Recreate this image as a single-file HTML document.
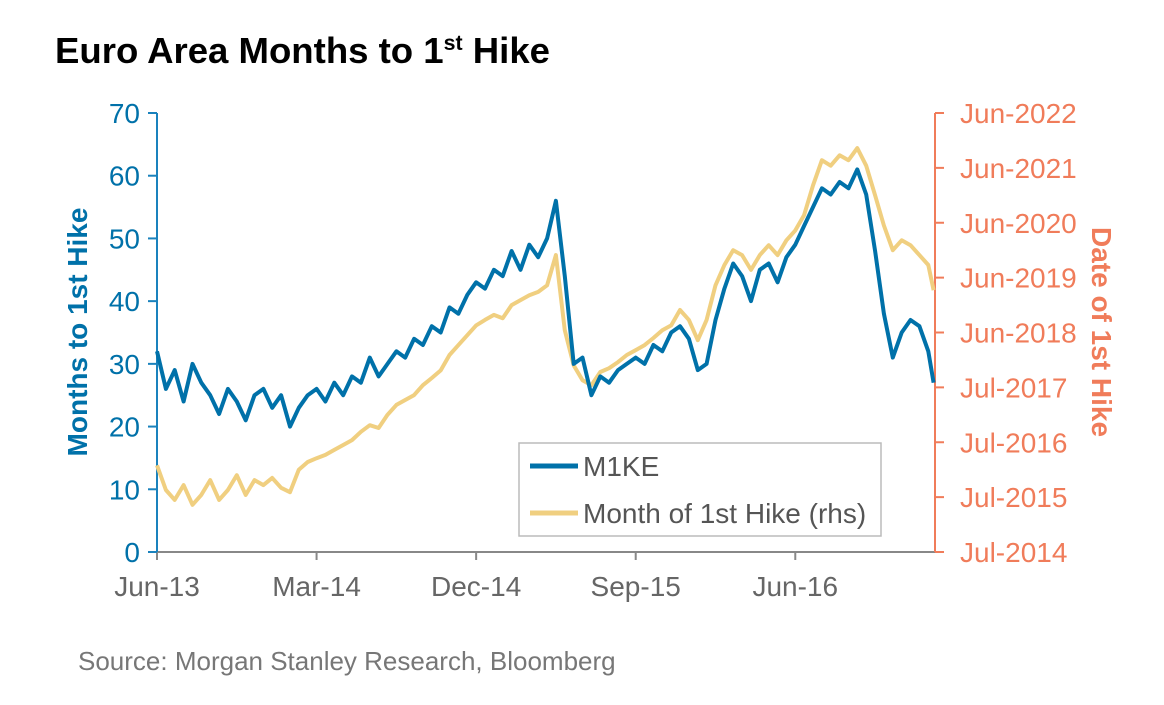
<!DOCTYPE html>
<html><head><meta charset="utf-8"><style>
html,body{margin:0;padding:0;background:#fff;width:1164px;height:705px;overflow:hidden}
svg text{font-family:"Liberation Sans",Arial,sans-serif}
</style></head><body>
<svg id="chart" width="1164" height="705" xmlns="http://www.w3.org/2000/svg">
<text x="55" y="63" font-size="36" font-weight="bold" fill="#000" textLength="495" lengthAdjust="spacingAndGlyphs">Euro Area Months to 1<tspan font-size="21" dy="-13">st</tspan><tspan dy="13"> Hike</tspan></text>
<g id="axes"></g>
<g id="series"></g>
<g>
<rect x="519" y="443" width="362" height="93" fill="#fff" stroke="#bbb" stroke-width="1.5"/>
<line x1="530" y1="466" x2="578" y2="466" stroke="#0071a9" stroke-width="5"/>
<text x="583" y="476" font-size="28" fill="#555">M1KE</text>
<line x1="530" y1="513" x2="578" y2="513" stroke="#f0cf80" stroke-width="5"/>
<text x="583" y="523" font-size="28" fill="#555">Month of 1st Hike (rhs)</text>
</g>
<text transform="translate(87,332) rotate(-90)" text-anchor="middle" font-size="28" font-weight="bold" fill="#0071a9">Months to 1st Hike</text>
<text transform="translate(1092,332) rotate(90)" text-anchor="middle" font-size="28" font-weight="bold" fill="#f07c5a">Date of 1st Hike</text>
<text x="78" y="670" font-size="26" fill="#777">Source: Morgan Stanley Research, Bloomberg</text>
</svg>
<script>
const months = [0,0.5,1,1.5,2,2.5,3,3.5,4,4.5,5,5.5,6,6.5,7,7.5,8,8.5,9,9.5,10,10.5,11,11.5,12,12.5,13,13.5,14,14.5,15,15.5,16,16.5,17,17.5,18,18.5,19,19.5,20,20.5,21,21.5,22,22.5,23,23.5,24,24.5,25,25.5,26,26.5,27,27.5,28,28.5,29,29.5,30,30.5,31,31.5,32,32.5,33,33.5,34,34.5,35,35.5,36,36.5,37,37.5,38,38.5,39,39.5,40,40.5,41,41.5,42,42.5,43,43.5,43.8];
const m1ke = [32,26,29,24,30,27,25,22,26,24,21,25,26,23,25,20,23,25,26,24,27,25,28,27,31,28,30,32,31,34,33,36,35,39,38,41,43,42,45,44,48,45,49,47,50,56,44,30,31,25,28,27,29,30,31,30,33,32,35,36,34,29,30,37,42,46,44,40,45,46,43,47,49,52,55,58,57,59,58,61,57,48,38,31,35,37,36,32,27];
const hikeDate = [2016.08,2015.63,2015.45,2015.72,2015.36,2015.54,2015.81,2015.45,2015.63,2015.90,2015.54,2015.81,2015.72,2015.85,2015.67,2015.59,2016.0,2016.14,2016.21,2016.27,2016.36,2016.45,2016.54,2016.69,2016.81,2016.76,2017.0,2017.18,2017.27,2017.36,2017.54,2017.67,2017.81,2018.09,2018.27,2018.45,2018.63,2018.73,2018.82,2018.76,2019.0,2019.09,2019.18,2019.24,2019.36,2019.91,2018.54,2017.9,2017.63,2017.54,2017.78,2017.85,2017.96,2018.09,2018.18,2018.27,2018.4,2018.54,2018.63,2018.91,2018.73,2018.36,2018.73,2019.36,2019.73,2020.0,2019.91,2019.64,2019.91,2020.09,2019.91,2020.18,2020.36,2020.64,2021.18,2021.64,2021.54,2021.73,2021.64,2021.86,2021.54,2021.0,2020.45,2020.0,2020.18,2020.09,2019.91,2019.73,2019.27];
const leftTicks = [0,10,20,30,40,50,60,70];
const rightTicks = ["Jul-2014","Jul-2015","Jul-2016","Jul-2017","Jun-2018","Jun-2019","Jun-2020","Jun-2021","Jun-2022"];
const xTickLabels = ["Jun-13","Mar-14","Dec-14","Sep-15","Jun-16"];
const xTickMonths = [0,9,18,27,36];

const NS="http://www.w3.org/2000/svg";
const X0=157,X1=935,Y0=552,Y1=113;
const xs=m=>X0+m*17.73;
const yl=v=>Y0-(v/70)*(Y0-Y1);
const yr=d=>Y0-(d-2014.5)/8*(Y0-Y1);
function mk(tag,attrs,parent){const e=document.createElementNS(NS,tag);for(const k in attrs)e.setAttribute(k,attrs[k]);parent.appendChild(e);return e;}
const axes=document.getElementById('axes'),series=document.getElementById('series');

let e=mk('line',{x1:X0,y1:Y0,x2:X1,y2:Y0,stroke:'#888','stroke-width':2},axes);


xTickMonths.forEach((m,i)=>{
  let t=mk('line',{x1:xs(m),y1:Y0,x2:xs(m),y2:Y0+8,stroke:'#888','stroke-width':2},axes);
  
  
  let l=mk('text',{x:xs(m),y:Y0+44,'text-anchor':'middle','font-size':28,fill:'#666'},axes);
  l.textContent=xTickLabels[i];
  
  
});
e=mk('line',{x1:X0,y1:Y0,x2:X0,y2:Y1,stroke:'#1a82bd','stroke-width':2},axes);


leftTicks.forEach(v=>{
  let t=mk('line',{x1:X0-9,y1:yl(v),x2:X0,y2:yl(v),stroke:'#1a82bd','stroke-width':2},axes);
  
  
  let l=mk('text',{x:140,y:yl(v)+10,'text-anchor':'end','font-size':28,fill:'#0071a9'},axes);
  l.textContent=v;
  
  
});
e=mk('line',{x1:X1,y1:Y0,x2:X1,y2:Y1,stroke:'#f07c5a','stroke-width':2},axes);


rightTicks.forEach((s,i)=>{
  const y=yr(2014.5+i);
  let t=mk('line',{x1:X1,y1:y,x2:X1+9,y2:y,stroke:'#f07c5a','stroke-width':2},axes);
  
  
  let l=mk('text',{x:960,y:y+10,'font-size':28,fill:'#f07c5a'},axes);
  l.textContent=s;
  
  
});
let p=mk('polyline',{points:months.map((m,i)=>xs(m).toFixed(1)+','+yr(hikeDate[i]).toFixed(1)).join(' '),fill:'none',stroke:'#f0cf80','stroke-width':4,'stroke-linejoin':'round'},series);


p=mk('polyline',{points:months.map((m,i)=>xs(m).toFixed(1)+','+yl(m1ke[i]).toFixed(1)).join(' '),fill:'none',stroke:'#0071a9','stroke-width':4,'stroke-linejoin':'round'},series);


</script>
</body></html>
